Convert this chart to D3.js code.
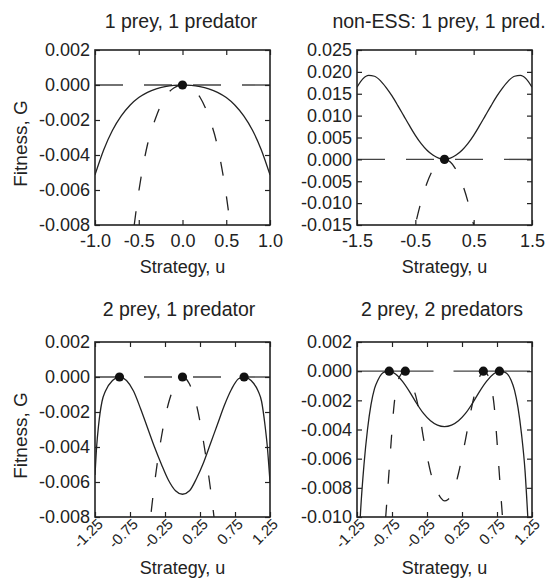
<!DOCTYPE html>
<html>
<head>
<meta charset="utf-8">
<script src="https://cdn.jsdelivr.net/npm/d3@7"></script>
<style>
body { margin: 0; background: #fff; }
svg text { font-family: "Liberation Sans", Arial, Helvetica, sans-serif; fill: #222; }
</style>
</head>
<body>
<div class="chart"></div>
<script>
// ---- panel 1: 1 prey, 1 predator
var p1U    = [-1.0,-0.9,-0.8,-0.7,-0.6,-0.5,-0.4,-0.3,-0.2,-0.1,0,0.1,0.2,0.3,0.4,0.5,0.6,0.7,0.8,0.9,1.0];
var p1Prey = [-0.00514,-0.00370,-0.00259,-0.00177,-0.00116,-0.00072,-0.00042,-0.00022,-0.00009,-0.00002,0,
              -0.00002,-0.00009,-0.00022,-0.00042,-0.00072,-0.00116,-0.00177,-0.00259,-0.00370,-0.00514];
var p1PredU = [-0.6,-0.5,-0.4,-0.3,-0.2,-0.1,0,0.1,0.2,0.3,0.4,0.5,0.6];
var p1Pred  = [-0.0100,-0.0061,-0.0034,-0.0018,-0.0007,-0.00017,0,-0.00017,-0.0007,-0.0018,-0.0035,-0.0063,-0.0103];
var p1DotU = [0];
var p1XTicks = [-1.0,-0.5,0,0.5,1.0];
var p1XLabels = ["-1.0","-0.5","0.0","0.5","1.0"];
var p1YTicks = [0.002,0,-0.002,-0.004,-0.006,-0.008];
var p1YLabels = ["0.002","0.000","-0.002","-0.004","-0.006","-0.008"];

// ---- panel 2: non-ESS
var p2U    = [-1.5,-1.4,-1.3,-1.2,-1.1,-1.0,-0.9,-0.8,-0.7,-0.6,-0.5,-0.4,-0.3,-0.2,-0.1,0,
              0.1,0.2,0.3,0.4,0.5,0.6,0.7,0.8,0.9,1.0,1.1,1.2,1.3,1.4,1.5];
var p2Prey = [0.0165,0.0184,0.0192,0.0190,0.0180,0.0164,0.0145,0.0123,0.0100,0.0077,0.0055,0.0036,0.0021,0.0010,0.0003,0,
              0.0003,0.0010,0.0021,0.0036,0.0055,0.0077,0.0100,0.0123,0.0145,0.0164,0.0180,0.0190,0.0192,0.0184,0.0165];
var p2PredU = [-0.6,-0.5,-0.4,-0.3,-0.2,-0.1,0,0.1,0.2,0.3,0.4,0.5,0.6];
var p2Pred  = [-0.0216,-0.0150,-0.0096,-0.0054,-0.0024,-0.0006,0,-0.0006,-0.0024,-0.0054,-0.0096,-0.0150,-0.0216];
var p2DotU = [0];
var p2XTicks = [-1.5,-0.5,0.5,1.5];
var p2XLabels = ["-1.5","-0.5","0.5","1.5"];
var p2YTicks = [0.025,0.020,0.015,0.010,0.005,0,-0.005,-0.010,-0.015];
var p2YLabels = ["0.025","0.020","0.015","0.010","0.005","0.000","-0.005","-0.010","-0.015"];

// ---- panel 3: 2 prey, 1 predator
var p3U    = [-1.25,-1.225,-1.2,-1.15,-1.1,-1.0,-0.9,-0.8,-0.7,-0.6,-0.5,-0.4,-0.3,-0.2,-0.1,0,
              0.1,0.2,0.3,0.4,0.5,0.6,0.7,0.8,0.88,0.98,1.08,1.13,1.18,1.21,1.25];
var p3Prey = [-0.0056,-0.0039,-0.0028,-0.0014,-0.0008,-0.0002,0,-0.0002,-0.0008,-0.0018,-0.0029,-0.0040,-0.0050,-0.0059,-0.0065,-0.0067,
              -0.0065,-0.0058,-0.0049,-0.0038,-0.0027,-0.0016,-0.0007,-0.0001,0,-0.0002,-0.0008,-0.0014,-0.0028,-0.0039,-0.0060];
var p3PredU = [-0.5,-0.45,-0.4,-0.3,-0.2,-0.1,0,0.1,0.2,0.3,0.4,0.45,0.5];
var p3Pred  = [-0.0097,-0.0078,-0.0061,-0.0034,-0.0015,-0.0004,0,-0.0004,-0.0016,-0.0037,-0.0064,-0.0080,-0.0099];
var p3DotU = [-0.9,0,0.88];
var rotTicks = [-1.25,-0.75,-0.25,0.25,0.75,1.25];
var rotLabels = ["-1.25","-0.75","-0.25","0.25","0.75","1.25"];
var p3YTicks = [0.002,0,-0.002,-0.004,-0.006,-0.008];
var p3YLabels = ["0.002","0.000","-0.002","-0.004","-0.006","-0.008"];

// ---- panel 4: 2 prey, 2 predators
var p4U    = [-1.22,-1.2,-1.15,-1.1,-1.05,-1.0,-0.95,-0.9,-0.85,-0.79,-0.7,-0.6,-0.5,-0.4,-0.3,-0.2,-0.1,0,
              0.1,0.2,0.3,0.4,0.5,0.6,0.7,0.785,0.85,0.9,0.95,1.0,1.05,1.1,1.15,1.19,1.21];
var p4Prey = [-0.0115,-0.0097,-0.0064,-0.0040,-0.0023,-0.0012,-0.0006,-0.0002,-0.00005,0,-0.0002,-0.0007,-0.0014,-0.0022,-0.0029,-0.0034,-0.0037,-0.0038,
              -0.0037,-0.0034,-0.0029,-0.0022,-0.0014,-0.0007,-0.0002,0,-0.00006,-0.0002,-0.0006,-0.0013,-0.0025,-0.0043,-0.0068,-0.0100,-0.0118];
var p4PredU = [-0.88,-0.84,-0.8,-0.76,-0.72,-0.68,-0.62,-0.56,-0.5,-0.45,-0.4,-0.35,-0.3,-0.25,-0.2,-0.15,-0.1,-0.05,0,
               0.05,0.1,0.15,0.2,0.25,0.3,0.35,0.4,0.45,0.5,0.555,0.61,0.67,0.71,0.75,0.79,0.83,0.87];
var p4Pred  = [-0.0125,-0.0100,-0.0074,-0.0047,-0.0023,-0.0010,-0.0002,0,-0.0004,-0.0011,-0.0019,-0.0031,-0.0046,-0.0058,-0.0069,-0.0077,-0.0083,-0.0087,-0.0089,
               -0.0088,-0.0085,-0.0079,-0.0070,-0.0059,-0.0047,-0.0034,-0.0022,-0.0012,-0.0004,0,-0.0002,-0.0011,-0.0024,-0.0048,-0.0075,-0.0101,-0.0126];
var p4DotU = [-0.79,-0.56,0.555,0.785];
var p4YTicks = [0.002,0,-0.002,-0.004,-0.006,-0.008,-0.010];
var p4YLabels = ["0.002","0.000","-0.002","-0.004","-0.006","-0.008","-0.010"];

var zip = (u, g) => u.map((d, i) => [d, g[i]]);

var panels = [
  { title: "1 prey, 1 predator", tx: 181, ty: 28, left: 95, top: 50, xDomain: [-1, 1], yDomain: [-0.008, 0.002],
    prey: zip(p1U, p1Prey), pred: zip(p1PredU, p1Pred), dots: p1DotU,
    xTicks: p1XTicks, xLabels: p1XLabels, yTicks: p1YTicks, yLabels: p1YLabels,
    rotated: false, yLabel: true, zeroDash: "28,21" },
  { title: "non-ESS: 1 prey, 1 pred.", tx: 439, ty: 28, left: 357, top: 50, xDomain: [-1.5, 1.5], yDomain: [-0.015, 0.025],
    prey: zip(p2U, p2Prey), pred: zip(p2PredU, p2Pred), dots: p2DotU,
    xTicks: p2XTicks, xLabels: p2XLabels, yTicks: p2YTicks, yLabels: p2YLabels,
    rotated: false, yLabel: false, zeroDash: "28,21" },
  { title: "2 prey, 1 predator", tx: 179, ty: 316, left: 95, top: 342, xDomain: [-1.25, 1.25], yDomain: [-0.008, 0.002],
    prey: zip(p3U, p3Prey), pred: zip(p3PredU, p3Pred), dots: p3DotU,
    xTicks: rotTicks, xLabels: rotLabels, yTicks: p3YTicks, yLabels: p3YLabels,
    rotated: true, yLabel: true, zeroDash: "28,21" },
  { title: "2 prey, 2 predators", tx: 442, ty: 316, left: 357, top: 342, xDomain: [-1.25, 1.25], yDomain: [-0.010, 0.002],
    prey: zip(p4U, p4Prey), pred: zip(p4PredU, p4Pred), dots: p4DotU,
    xTicks: rotTicks, xLabels: rotLabels, yTicks: p4YTicks, yLabels: p4YLabels,
    rotated: true, yLabel: false, zeroDash: "76.5,20" }
];

var W = 175, H = 175;

var svg = d3.select(".chart").append("svg")
  .attr("width", 555)
  .attr("height", 579);

var defs = svg.append("defs");

panels.forEach((p, k) => {
  var x = d3.scaleLinear().domain(p.xDomain).range([p.left, p.left + W]);
  var y = d3.scaleLinear().domain(p.yDomain).range([p.top + H, p.top]);
  var g = svg.append("g");

  defs.append("clipPath").attr("id", "clip" + k)
    .append("rect").attr("x", p.left).attr("y", p.top).attr("width", W).attr("height", H);

  var plot = g.append("g").attr("clip-path", "url(#clip" + k + ")");

  plot.append("line")
    .attr("x1", p.left).attr("x2", p.left + W)
    .attr("y1", y(0)).attr("y2", y(0))
    .attr("stroke", "#444")
    .attr("stroke-width", 1.4)
    .attr("stroke-dasharray", p.zeroDash);

  var line = d3.line()
    .x(d => x(d[0]))
    .y(d => y(d[1]))
    .curve(d3.curveMonotoneX);

  plot.append("path")
    .attr("d", line(p.pred))
    .attr("fill", "none")
    .attr("stroke", "#222")
    .attr("stroke-width", 1.3)
    .attr("stroke-dasharray", "14,21");

  plot.append("path")
    .attr("d", line(p.prey))
    .attr("fill", "none")
    .attr("stroke", "#222")
    .attr("stroke-width", 1.3);

  g.selectAll("circle.dot").data(p.dots).enter().append("circle")
    .attr("class", "dot")
    .attr("cx", d => x(d))
    .attr("cy", y(0))
    .attr("r", 4.6)
    .attr("fill", "#111");

  // axes, ticks inside on all four sides
  var left = g.append("g").attr("transform", `translate(${p.left},0)`)
    .call(d3.axisLeft(y).tickValues(p.yTicks).tickFormat((d, i) => p.yLabels[i])
      .tickSizeInner(-5).tickSizeOuter(0).tickPadding(5));
  var right = g.append("g").attr("transform", `translate(${p.left + W},0)`)
    .call(d3.axisRight(y).tickValues(p.yTicks).tickFormat("").tickSizeInner(-5).tickSizeOuter(0));
  var top = g.append("g").attr("transform", `translate(0,${p.top})`)
    .call(d3.axisTop(x).tickValues(p.xTicks).tickFormat("").tickSizeInner(-5).tickSizeOuter(0));
  var bottom = g.append("g").attr("transform", `translate(0,${p.top + H})`)
    .call(d3.axisBottom(x).tickValues(p.xTicks)
      .tickFormat((d, i) => p.rotated ? "" : p.xLabels[i])
      .tickSizeInner(-5).tickSizeOuter(0).tickPadding(9));

  [left, right, top, bottom].forEach(a => {
    a.select(".domain").remove();
    a.selectAll(".tick line").attr("stroke", "#222").attr("stroke-width", 1.2);
    a.selectAll("text").style("font-size", "18px").attr("fill", "#222");
  });

  if (p.rotated) {
    g.selectAll("text.rot").data(p.xTicks).enter().append("text")
      .attr("class", "rot")
      .attr("transform", d => `translate(${x(d) + 9},${p.top + H + 8}) rotate(-45)`)
      .attr("text-anchor", "end")
      .style("font-size", "15px")
      .text((d, i) => p.xLabels[i]);
  }

  g.append("rect")
    .attr("x", p.left).attr("y", p.top)
    .attr("width", W).attr("height", H)
    .attr("fill", "none")
    .attr("stroke", "#222")
    .attr("stroke-width", 1.6);

  g.append("text")
    .attr("x", p.tx).attr("y", p.ty)
    .attr("text-anchor", "middle")
    .style("font-size", "19.5px")
    .text(p.title);

  g.append("text")
    .attr("x", p.left + W / 2)
    .attr("y", p.rotated ? p.top + H + 57 : p.top + H + 48)
    .attr("text-anchor", "middle")
    .style("font-size", "18px")
    .text("Strategy, u");

  if (p.yLabel) {
    g.append("text")
      .attr("transform", `translate(27,${p.top + H / 2 + 6}) rotate(-90)`)
      .attr("text-anchor", "middle")
      .style("font-size", "19px")
      .text("Fitness, G");
  }
});
</script>
</body>
</html>
